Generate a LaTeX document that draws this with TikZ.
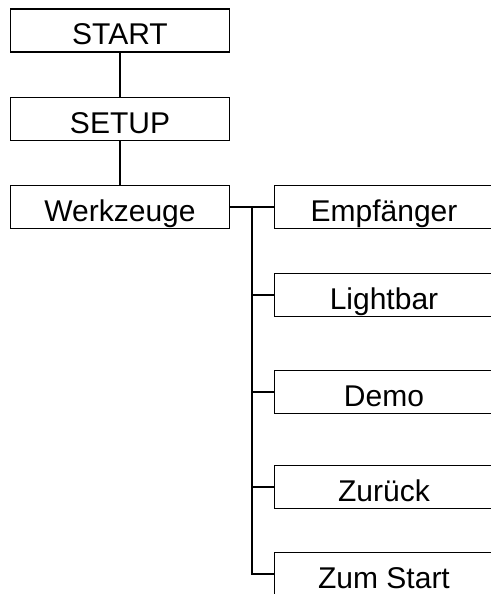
\documentclass[tikz,border=0pt]{standalone}
\usepackage{fontspec}
\setmainfont{Liberation Sans}
\usepackage{tikz}

\begin{document}
\begin{tikzpicture}[x=1pt, y=-1pt,
  menubox/.style={draw, line width=1.6pt, minimum width=219pt, minimum height=43pt,
    inner sep=0pt, text height=29pt, text depth=0pt, font=\fontsize{30}{35}\selectfont},
  link/.style={line width=1.6pt}
  ]
  \useasboundingbox (0,0) rectangle (490,594);
  % left column
  \node[menubox] (start) at (120,30.5) {START};
  \node[menubox] (setup) at (120,119) {SETUP};
  \node[menubox] (wz) at (120,207) {Werkzeuge};
  % submenu
  \node[menubox] (emp) at (384,207) {Empf\"anger};
  \node[menubox] (lb) at (384,295) {Lightbar};
  \node[menubox] (demo) at (384,392) {Demo};
  \node[menubox] (zur) at (384,487) {Zur\"uck};
  \node[menubox] (zs) at (384,574) {Zum Start};
  \coordinate (trunk) at (252,207);

  \draw[link] (start) -- (setup);
  \draw[link] (setup) -- (wz);
  \draw[link] (wz.east) -- (emp.west);
  \draw[link] (trunk) |- (zs.west);
  \foreach \n in {lb,demo,zur}
    \draw[link] (trunk |- \n.west) -- (\n.west);
\end{tikzpicture}
\end{document}
